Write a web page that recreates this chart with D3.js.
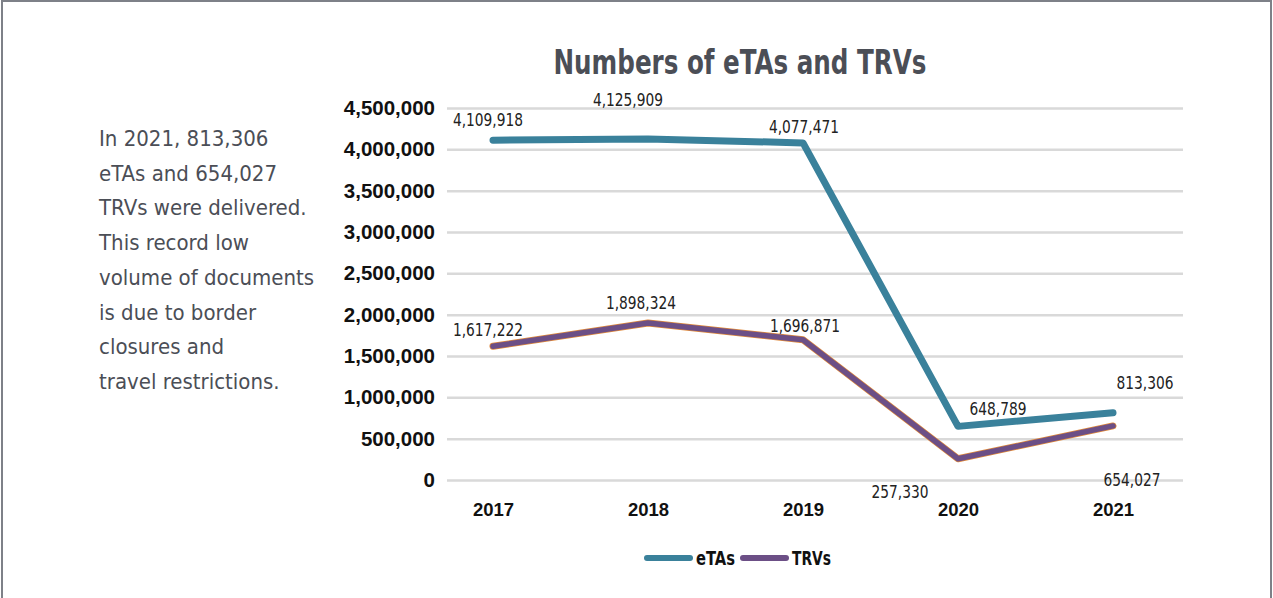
<!DOCTYPE html>
<html>
<head>
<meta charset="utf-8">
<script src="https://cdn.jsdelivr.net/npm/d3@7"></script>
<style>
  body { margin: 0; background: #fff; }
  svg { display: block; }
</style>
</head>
<body>
<svg class="chart" width="1273" height="598"></svg>
<script>
// data
var years = ["2017", "2018", "2019", "2020", "2021"]
var etas = [4109918, 4125909, 4077471, 648789, 813306]
var trvs = [1617222, 1898324, 1696871, 257330, 654027]
var yTicks = [0, 500000, 1000000, 1500000, 2000000, 2500000, 3000000, 3500000, 4000000, 4500000]
var noteLines = [
  "In 2021, 813,306",
  "eTAs and 654,027",
  "TRVs were delivered.",
  "This record low",
  "volume of documents",
  "is due to border",
  "closures and",
  "travel restrictions."
]

// label offsets from each point (layout, not data)
var etaOff = [[-5, -14], [-20, -33], [1, -10], [40, -11], [32, -24]]
var trvOff = [[-5, -10], [-7, -14], [2, -8], [-58, 39], [19, 60]]

var etaColor = "#3a819b"
var trvColor = "#6c4f86"
var condensed = "'DejaVu Sans Condensed', 'Roboto', sans-serif"

var chart = d3.select(".chart")

// squeeze a text horizontally, the reference face is narrower
function squeeze(sel, k) {
  sel.each(function() {
    var w = this.getComputedTextLength()
    d3.select(this).attr("textLength", w * k).attr("lengthAdjust", "spacingAndGlyphs")
  })
}

// frame
chart.append("rect")
  .attr("x", 2).attr("y", 1)
  .attr("width", 1269).attr("height", 605)
  .attr("fill", "none")
  .attr("stroke", "#7e8188")
  .attr("stroke-width", 2)

var x = d3.scalePoint().domain(years).range([493, 1113])
var y = d3.scaleLinear().domain([0, 4500000]).range([480, 108])

var gridLeft = 447, gridRight = 1183

// gridlines + y labels
var yAxis = chart.append("g")
  .attr("transform", "translate(" + gridLeft + ",0)")
  .call(d3.axisLeft(y).tickValues(yTicks).tickSize(-(gridRight - gridLeft)).tickPadding(12).tickFormat(d3.format(",")))
yAxis.select(".domain").remove()
yAxis.selectAll(".tick line").attr("stroke", "#d9d9d9").attr("stroke-width", 2.5)
yAxis.selectAll(".tick text")
  .attr("fill", "#111")
  .style("font-family", "'Liberation Sans', Arial, sans-serif")
  .style("font-weight", "bold")
  .style("font-size", "20.5px")

// x labels
var xAxis = chart.append("g")
  .attr("transform", "translate(0,480)")
  .call(d3.axisBottom(x).tickSize(0).tickPadding(23))
xAxis.select(".domain").remove()
xAxis.selectAll(".tick text")
  .attr("fill", "#111")
  .style("font-family", "'Liberation Sans', Arial, sans-serif")
  .style("font-weight", "bold")
  .style("font-size", "18.5px")

var line = d3.line()
  .x(function(d, i) { return x(years[i]) })
  .y(function(d) { return y(d) })

// TRVs has a thin orange edge
chart.append("path")
  .attr("d", line(trvs))
  .attr("fill", "none")
  .attr("stroke", "#e08a3c")
  .attr("stroke-width", 7)
  .attr("stroke-linecap", "round")
  .attr("stroke-linejoin", "round")
chart.append("path")
  .attr("d", line(trvs))
  .attr("fill", "none")
  .attr("stroke", trvColor)
  .attr("stroke-width", 5.5)
  .attr("stroke-linecap", "round")
  .attr("stroke-linejoin", "round")

chart.append("path")
  .attr("d", line(etas))
  .attr("fill", "none")
  .attr("stroke", etaColor)
  .attr("stroke-width", 7)
  .attr("stroke-linecap", "round")
  .attr("stroke-linejoin", "round")

function labels(vals, off) {
  chart.append("g").selectAll("text")
    .data(vals)
    .enter().append("text")
      .attr("x", function(d, i) { return x(years[i]) + off[i][0] })
      .attr("y", function(d, i) { return y(d) + off[i][1] })
      .attr("text-anchor", "middle")
      .attr("fill", "#222")
      .style("font-family", condensed)
      .style("font-size", "18px")
      .text(function(d) { return d3.format(",")(d) })
      .call(squeeze, 0.85)
}
labels(etas, etaOff)
labels(trvs, trvOff)

// title
chart.append("text")
  .attr("x", 740).attr("y", 74)
  .attr("text-anchor", "middle")
  .attr("fill", "#4b4e56")
  .style("font-family", condensed)
  .style("font-weight", "bold")
  .style("font-size", "34px")
  .attr("textLength", 373)
  .attr("lengthAdjust", "spacingAndGlyphs")
  .text("Numbers of eTAs and TRVs")

// side note
chart.append("g").selectAll("text")
  .data(noteLines)
  .enter().append("text")
    .attr("x", 99)
    .attr("y", function(d, i) { return 146 + i * 34.7 })
    .attr("fill", "#4b4e56")
    .style("font-family", condensed)
    .style("font-size", "22px")
    .text(function(d) { return d })

// legend
var legend = [["eTAs", etaColor, 647], ["TRVs", trvColor, 743]]
legend.forEach(function(l) {
  chart.append("line")
    .attr("x1", l[2]).attr("x2", l[2] + 43)
    .attr("y1", 558).attr("y2", 558)
    .attr("stroke", l[1])
    .attr("stroke-width", 6)
    .attr("stroke-linecap", "round")
  chart.append("text")
    .attr("x", l[2] + 49).attr("y", 565)
    .attr("fill", "#111")
    .style("font-family", condensed)
    .style("font-weight", "bold")
    .style("font-size", "19px")
    .attr("textLength", 39)
    .attr("lengthAdjust", "spacingAndGlyphs")
    .text(l[0])
})
</script>
</body>
</html>
